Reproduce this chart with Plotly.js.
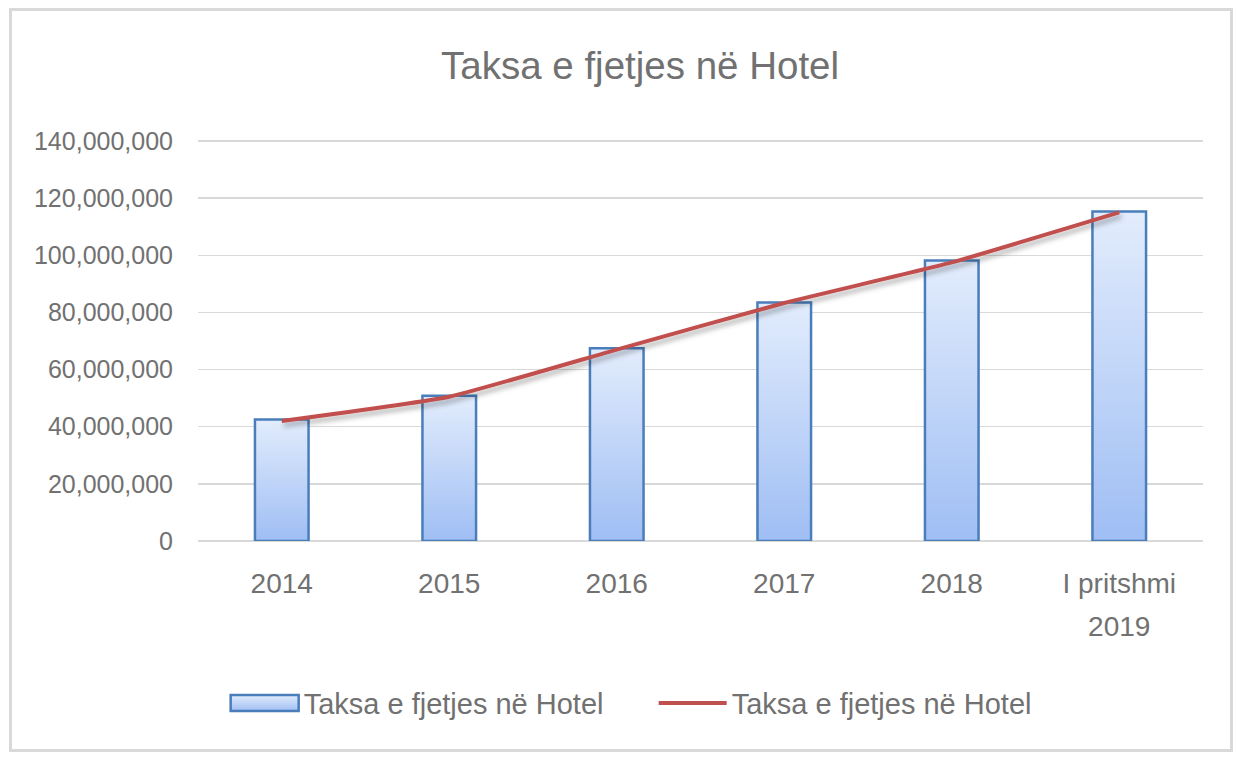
<!DOCTYPE html>
<html>
<head>
<meta charset="utf-8">
<script src="https://cdn.plot.ly/plotly-3.0.1.min.js"></script>
<style>
  html, body { margin: 0; padding: 0; background: #fff; }
  #wrap { position: relative; width: 1238px; height: 757px; }
  #chart { width: 1238px; height: 757px; }
  #frame { position: absolute; left: 9px; top: 8px; width: 1218px; height: 738px;
           border: 3px solid #d9d9d9; pointer-events: none; }
</style>
</head>
<body>
<div id="wrap">
  <div id="chart"></div>
  <div id="frame"></div>
</div>
<script>
const categories = ['2014', '2015', '2016', '2017', '2018', 'I pritshmi<br>2019'];
const barValues = [42500000, 50800000, 67500000, 83500000, 98200000, 115300000];
const lineValues = [42000000, 50500000, 67000000, 83300000, 97500000, 115000000];
const seriesName = 'Taksa e fjetjes në Hotel';
const chartTitle = 'Taksa e fjetjes në Hotel';

const textColor = '#717171';
const fam = '"Liberation Sans", Arial, sans-serif';

const traces = [
  {
    type: 'bar', x: categories, y: barValues, name: seriesName,
    width: 0.32,
    marker: { color: '#c3d6f7', line: { color: '#4a7ebb', width: 2.5 } },
    hoverinfo: 'skip'
  },
  {
    type: 'scatter', mode: 'lines', x: categories, y: lineValues, name: seriesName,
    line: { color: '#c0504d', width: 4, shape: 'spline', smoothing: 0.4 },
    hoverinfo: 'skip'
  }
];

const layout = {
  width: 1238, height: 757,
  paper_bgcolor: '#ffffff', plot_bgcolor: '#ffffff',
  margin: { l: 198, r: 35, t: 139, b: 216 },
  title: {
    text: chartTitle, xref: 'container', x: 0.517, xanchor: 'center',
    yref: 'container', y: 0.914, yanchor: 'middle',
    font: { family: fam, size: 38.5, color: textColor }
  },
  xaxis: {
    type: 'category', showgrid: false, showline: false, zeroline: false,
    ticks: '', ticklabelstandoff: 23,
    tickfont: { family: fam, size: 28, color: textColor }
  },
  yaxis: {
    range: [0, 140700000], dtick: 20000000, tick0: 0, tickformat: ',d',
    showgrid: true, gridcolor: '#d9d9d9', gridwidth: 1.5,
    zeroline: true, zerolinecolor: '#d9d9d9', zerolinewidth: 1.5,
    showline: false, ticks: '', ticklabelstandoff: 24,
    tickfont: { family: fam, size: 25, color: textColor }
  },
  showlegend: true,
  legend: {
    orientation: 'h', xref: 'container', x: 0.528, xanchor: 'center',
    yref: 'container', y: 0.071, yanchor: 'middle',
    font: { family: fam, size: 29, color: textColor },
    traceorder: 'normal', itemwidth: 68, entrywidth: 345
  }
};

Plotly.newPlot('chart', traces, layout, { staticPlot: true, displayModeBar: false }).then(function (gd) {
  const svg = gd.querySelector('.main-svg');
  const ns = 'http://www.w3.org/2000/svg';
  let defs = svg.querySelector('defs');
  if (!defs) { defs = document.createElementNS(ns, 'defs'); svg.insertBefore(defs, svg.firstChild); }
  const grad = document.createElementNS(ns, 'linearGradient');
  grad.setAttribute('id', 'barGrad');
  grad.setAttribute('x1', '0'); grad.setAttribute('y1', '0');
  grad.setAttribute('x2', '0'); grad.setAttribute('y2', '1');
  [['0', '#e2ecfc'], ['1', '#9fbef4']].forEach(function (s) {
    const st = document.createElementNS(ns, 'stop');
    st.setAttribute('offset', s[0]); st.setAttribute('stop-color', s[1]);
    grad.appendChild(st);
  });
  defs.appendChild(grad);
  const filt = document.createElementNS(ns, 'filter');
  filt.setAttribute('id', 'lineShadow');
  filt.setAttribute('x', '-10%'); filt.setAttribute('y', '-50%');
  filt.setAttribute('width', '120%'); filt.setAttribute('height', '200%');
  const ds = document.createElementNS(ns, 'feDropShadow');
  ds.setAttribute('dx', '2'); ds.setAttribute('dy', '4'); ds.setAttribute('stdDeviation', '2.5');
  ds.setAttribute('flood-color', '#000'); ds.setAttribute('flood-opacity', '0.3');
  filt.appendChild(ds);
  defs.appendChild(filt);
  gd.querySelectorAll('.barlayer .point path').forEach(function (p) {
    p.style.fill = 'url(#barGrad)';
  });
  gd.querySelectorAll('.scatterlayer .js-line').forEach(function (p) {
    p.setAttribute('filter', 'url(#lineShadow)');
  });
  const legTraces = gd.querySelectorAll('.legend .traces');
  if (legTraces.length) {
    legTraces[0].querySelectorAll('.legendpoints path').forEach(function (p) {
      p.setAttribute('d', 'M5,8H73V-8H5Z');
      p.setAttribute('transform', 'translate(0,0)');
      p.style.fill = 'url(#barGrad)';
      p.style.stroke = '#4a7ebb';
      p.style.strokeWidth = '2.5px';
    });
  }
  gd.querySelectorAll('.xtick text').forEach(function (t) {
    const lines = t.querySelectorAll('tspan.line');
    for (let i = 1; i < lines.length; i++) {
      lines[i].setAttribute('dy', '1.55em');
    }
  });
});
</script>
</body>
</html>
